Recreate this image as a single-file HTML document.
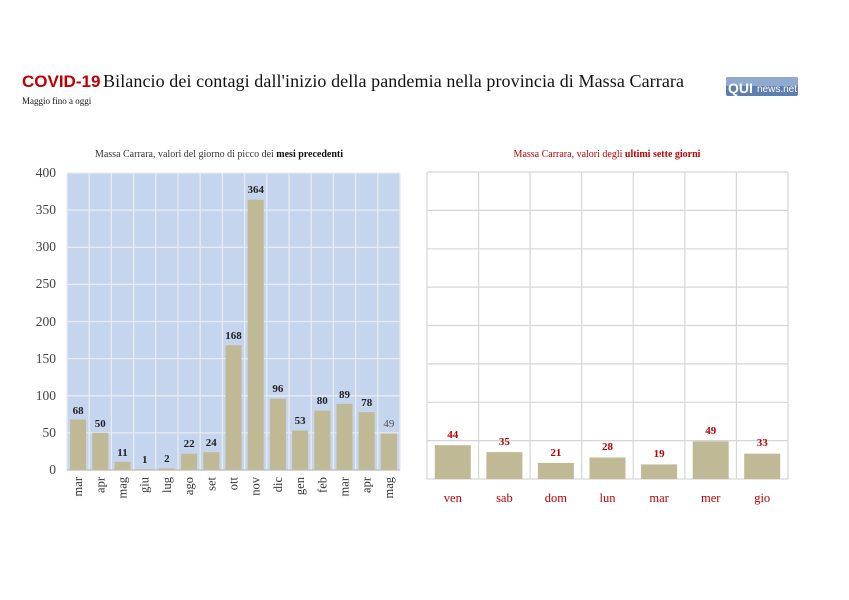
<!DOCTYPE html>
<html><head><meta charset="utf-8"><style>
html,body{margin:0;padding:0;background:#fff;}
svg{display:block;font-family:"Liberation Serif",serif;}
</style></head><body>
<svg width="849" height="600" viewBox="0 0 849 600">
<text x="22" y="87" font-family="Liberation Sans,sans-serif" font-weight="bold" font-size="17" fill="#c00000">COVID-19</text>
<text x="103" y="87" font-size="18" fill="#111" textLength="581" lengthAdjust="spacing">Bilancio dei contagi dall'inizio della pandemia nella provincia di Massa Carrara</text>
<text x="22" y="104" font-size="9" fill="#111">Maggio fino a oggi</text>
<rect x="726" y="77" width="72" height="19" rx="2" fill="#5d7fb0"/>
<rect x="726" y="77" width="72" height="9" rx="2" fill="#8fa9cf"/>
<text x="728" y="93" font-family="Liberation Sans,sans-serif" font-weight="bold" font-size="14" fill="#fff">QUI</text>
<text x="757" y="92" font-family="Liberation Sans,sans-serif" font-size="10" fill="#fff">news.net</text>

<text x="219" y="157" text-anchor="middle" font-size="10" fill="#333">Massa Carrara, valori del giorno di picco dei <tspan font-weight="bold" fill="#111">mesi precedenti</tspan></text>
<rect x="67" y="173" width="333" height="297" fill="#c5d5ee"/>
<g stroke="#e8ebef" stroke-width="1.3">
<line x1="67" y1="432.9" x2="400" y2="432.9"/><line x1="67" y1="395.8" x2="400" y2="395.8"/><line x1="67" y1="358.6" x2="400" y2="358.6"/><line x1="67" y1="321.5" x2="400" y2="321.5"/><line x1="67" y1="284.4" x2="400" y2="284.4"/><line x1="67" y1="247.3" x2="400" y2="247.3"/><line x1="67" y1="210.1" x2="400" y2="210.1"/><line x1="67" y1="173" x2="400" y2="173"/>
<line x1="89.2" y1="173" x2="89.2" y2="470"/><line x1="111.4" y1="173" x2="111.4" y2="470"/><line x1="133.6" y1="173" x2="133.6" y2="470"/><line x1="155.8" y1="173" x2="155.8" y2="470"/><line x1="178" y1="173" x2="178" y2="470"/><line x1="200.2" y1="173" x2="200.2" y2="470"/><line x1="222.4" y1="173" x2="222.4" y2="470"/><line x1="244.6" y1="173" x2="244.6" y2="470"/><line x1="266.8" y1="173" x2="266.8" y2="470"/><line x1="289" y1="173" x2="289" y2="470"/><line x1="311.2" y1="173" x2="311.2" y2="470"/><line x1="333.4" y1="173" x2="333.4" y2="470"/><line x1="355.6" y1="173" x2="355.6" y2="470"/><line x1="377.8" y1="173" x2="377.8" y2="470"/><line x1="67" y1="173" x2="67" y2="470"/><line x1="400" y1="173" x2="400" y2="470"/>
</g>
<line x1="67" y1="470" x2="400" y2="470" stroke="#bbb" stroke-width="1.3"/>
<g fill="#c0b995">
<rect x="70.1" y="419.5" width="16" height="50.5"/><rect x="92.3" y="432.9" width="16" height="37.1"/><rect x="114.5" y="461.8" width="16" height="8.2"/><rect x="136.7" y="469.3" width="16" height="0.7"/><rect x="158.9" y="468.5" width="16" height="1.5"/><rect x="181.1" y="453.7" width="16" height="16.3"/><rect x="203.3" y="452.2" width="16" height="17.8"/><rect x="225.5" y="345.3" width="16" height="124.7"/><rect x="247.7" y="199.7" width="16" height="270.3"/><rect x="269.9" y="398.7" width="16" height="71.3"/><rect x="292.1" y="430.6" width="16" height="39.4"/><rect x="314.3" y="410.6" width="16" height="59.4"/><rect x="336.5" y="403.9" width="16" height="66.1"/><rect x="358.7" y="412.1" width="16" height="57.9"/><rect x="380.9" y="433.6" width="16" height="36.4"/>
</g>
<g font-size="11" font-weight="bold" fill="#222" text-anchor="middle">
<text x="78.1" y="414">68</text><text x="100.3" y="427">50</text><text x="122.5" y="456">11</text><text x="144.7" y="463">1</text><text x="166.9" y="462">2</text><text x="189.1" y="447">22</text><text x="211.3" y="446">24</text><text x="233.5" y="339">168</text><text x="255.7" y="193">364</text><text x="277.9" y="392">96</text><text x="300.1" y="424">53</text><text x="322.3" y="404">80</text><text x="344.5" y="398">89</text><text x="366.7" y="406">78</text><text x="388.9" y="427" font-weight="normal" fill="#555">49</text>
</g>
<g font-size="13.5" fill="#444" text-anchor="end">
<text x="56" y="474">0</text><text x="56" y="437">50</text><text x="56" y="400">100</text><text x="56" y="363">150</text><text x="56" y="326">200</text><text x="56" y="288">250</text><text x="56" y="251">300</text><text x="56" y="214">350</text><text x="56" y="177">400</text>
</g>
<g font-size="12.5" fill="#333" text-anchor="end">
<text transform="translate(82.1,477) rotate(-90)">mar</text><text transform="translate(104.3,477) rotate(-90)">apr</text><text transform="translate(126.5,477) rotate(-90)">mag</text><text transform="translate(148.7,477) rotate(-90)">giu</text><text transform="translate(170.9,477) rotate(-90)">lug</text><text transform="translate(193.1,477) rotate(-90)">ago</text><text transform="translate(215.3,477) rotate(-90)">set</text><text transform="translate(237.5,477) rotate(-90)">ott</text><text transform="translate(259.7,477) rotate(-90)">nov</text><text transform="translate(281.9,477) rotate(-90)">dic</text><text transform="translate(304.1,477) rotate(-90)">gen</text><text transform="translate(326.3,477) rotate(-90)">feb</text><text transform="translate(348.5,477) rotate(-90)">mar</text><text transform="translate(370.7,477) rotate(-90)">apr</text><text transform="translate(392.9,477) rotate(-90)">mag</text>
</g>

<text x="607" y="157" text-anchor="middle" font-size="10" fill="#c00000">Massa Carrara, valori degli <tspan font-weight="bold">ultimi sette giorni</tspan></text>
<g stroke="#d6d6d6" stroke-width="1.2">
<line x1="427" y1="440.6" x2="788" y2="440.6"/><line x1="427" y1="402.3" x2="788" y2="402.3"/><line x1="427" y1="363.9" x2="788" y2="363.9"/><line x1="427" y1="325.5" x2="788" y2="325.5"/><line x1="427" y1="287.1" x2="788" y2="287.1"/><line x1="427" y1="248.8" x2="788" y2="248.8"/><line x1="427" y1="210.4" x2="788" y2="210.4"/><line x1="427" y1="172" x2="788" y2="172"/>
<line x1="427" y1="172" x2="427" y2="479"/><line x1="478.6" y1="172" x2="478.6" y2="479"/><line x1="530.1" y1="172" x2="530.1" y2="479"/><line x1="581.7" y1="172" x2="581.7" y2="479"/><line x1="633.3" y1="172" x2="633.3" y2="479"/><line x1="684.9" y1="172" x2="684.9" y2="479"/><line x1="736.4" y1="172" x2="736.4" y2="479"/><line x1="788" y1="172" x2="788" y2="479"/>
<line x1="427" y1="479" x2="788" y2="479"/>
</g>
<g fill="#c0b995">
<rect x="434.8" y="445.2" width="36" height="33.8"/><rect x="486.4" y="452.1" width="36" height="26.9"/><rect x="537.9" y="462.9" width="36" height="16.1"/><rect x="589.5" y="457.5" width="36" height="21.5"/><rect x="641.1" y="464.4" width="36" height="14.6"/><rect x="692.7" y="441.4" width="36" height="37.6"/><rect x="744.2" y="453.7" width="36" height="25.3"/>
</g>
<g font-size="11" font-weight="bold" fill="#c00000" text-anchor="middle">
<text x="452.8" y="438">44</text><text x="504.4" y="445">35</text><text x="555.9" y="456">21</text><text x="607.5" y="450">28</text><text x="659.1" y="457">19</text><text x="710.7" y="434">49</text><text x="762.2" y="446">33</text>
</g>
<g font-size="12.5" fill="#c00000" text-anchor="middle">
<text x="452.8" y="502">ven</text><text x="504.4" y="502">sab</text><text x="555.9" y="502">dom</text><text x="607.5" y="502">lun</text><text x="659.1" y="502">mar</text><text x="710.7" y="502">mer</text><text x="762.2" y="502">gio</text>
</g>
</svg>
</body></html>
